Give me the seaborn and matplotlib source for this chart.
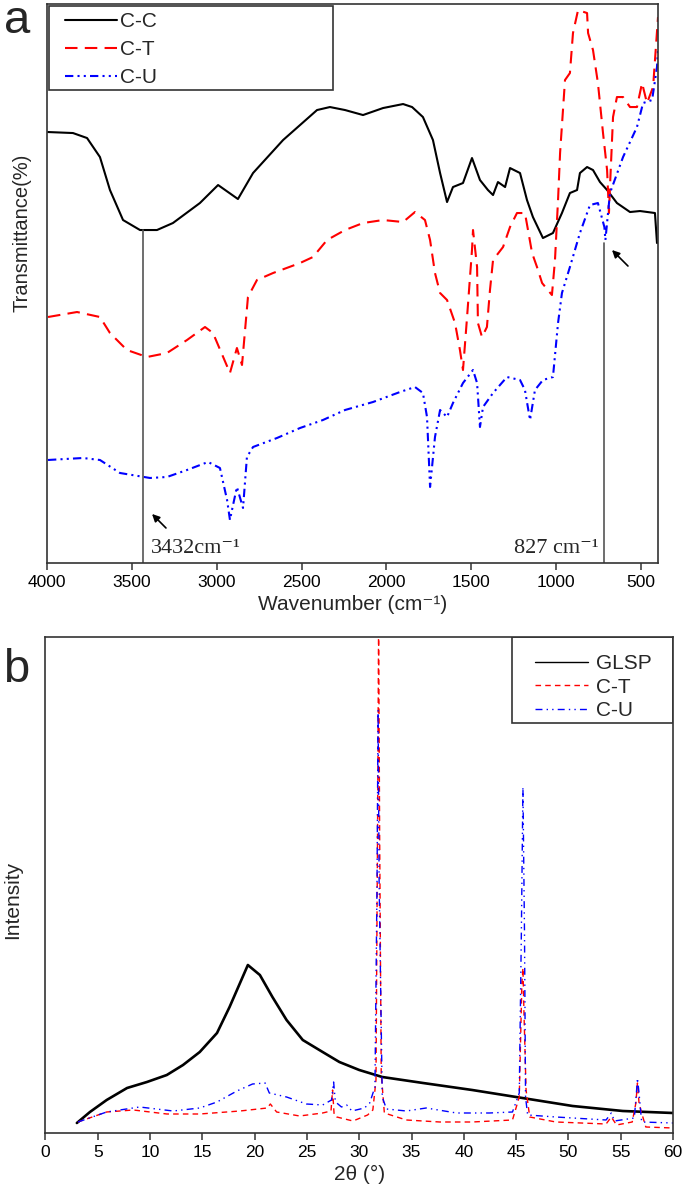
import matplotlib
matplotlib.use("Agg")
import matplotlib.pyplot as plt
from matplotlib.patches import Rectangle
import seaborn as sns

# FTIR spectra (panel a): wavenumber (cm-1) and transmittance (arbitrary offset units)
cc_wn = [3994, 3847, 3764, 3688, 3629, 3552, 3452, 3352, 3258, 3099, 2992, 2875, 2786,
         2609, 2409, 2333, 2244, 2138, 2020, 1902, 1849, 1785, 1726, 1684, 1643, 1608,
         1549, 1496, 1449, 1402, 1372, 1343, 1301, 1272, 1213, 1172, 1137, 1078, 1019,
         966, 919, 877, 860, 818, 783, 742, 700, 642, 565, 506, 418, 406]
cc_t = [431, 430, 425, 406, 373, 343, 333, 333, 340, 360, 378, 364, 390,
        423, 453, 456, 453, 448, 455, 459, 456, 446, 423, 390, 361, 376,
        380, 405, 383, 373, 368, 381, 376, 395, 390, 363, 346, 325, 330,
        350, 370, 373, 390, 396, 393, 381, 373, 360, 351, 352, 350, 320]

ct_wn = [3994, 3823, 3688, 3629, 3529, 3411, 3293, 3175, 3069, 3022, 2922, 2881, 2851,
         2816, 2763, 2668, 2509, 2433, 2350, 2244, 2138, 2020, 1902, 1832, 1773, 1743,
         1714, 1684, 1643, 1596, 1567, 1549, 1525, 1496, 1490, 1466, 1461, 1437, 1408,
         1390, 1372, 1313, 1272, 1231, 1184, 1166, 1142, 1113, 1083, 1025, 1007, 989,
         977, 948, 919, 901, 871, 818, 812, 783, 754, 724, 700, 689, 683, 665, 642,
         606, 565, 524, 494, 465, 429, 400]
ct_t = [246, 251, 246, 230, 213, 206, 210, 223, 236, 230, 190, 215, 198,
        266, 283, 290, 300, 306, 323, 333, 340, 343, 341, 351, 343, 323,
        290, 270, 263, 240, 213, 193, 246, 313, 333, 296, 240, 226, 236,
        273, 303, 316, 336, 350, 350, 333, 310, 296, 280, 268, 303, 363,
        410, 483, 490, 530, 553, 550, 530, 513, 480, 430, 393, 350, 376, 446, 466,
        466, 456, 456, 480, 460, 476, 546]

cu_wn = [3994, 3788, 3688, 3570, 3393, 3293, 3175, 3051, 2981, 2939, 2922, 2910, 2881,
         2845, 2822, 2786, 2645, 2509, 2374, 2244, 2079, 1920, 1832, 1785, 1761, 1743,
         1714, 1684, 1643, 1608, 1549, 1490, 1466, 1449, 1431, 1372, 1290, 1213, 1184,
         1154, 1125, 1078, 1019, 989, 966, 919, 860, 801, 754, 716, 710, 683, 606,
         524, 488, 435, 406, 400]
cu_t = [103, 105, 103, 90, 85, 86, 93, 101, 95, 63, 43, 53, 76,
        55, 106, 116, 125, 135, 143, 153, 161, 171, 176, 170, 146, 76,
        126, 153, 146, 160, 180, 193, 180, 136, 156, 170, 186, 183, 173,
        143, 173, 183, 186, 240, 270, 296, 330, 358, 360, 336, 323, 370, 406,
        436, 460, 463, 496, 513]

# marked bands (position, top of marker line)
mark_wn = [3432, 718]
mark_top = [333, 320]

# XRD patterns (panel b): 2theta (deg) and intensity (arbitrary units)
glsp_2t = [3.0, 4.25, 5.85, 7.8, 9.7, 11.6, 13.15, 14.75, 16.4, 17.6, 18.6, 19.35, 20.5,
           21.7, 23.05, 24.6, 26.5, 28.1, 30.0, 32.2, 36.1, 40.8, 45.0, 50.4, 55.2, 60.0]
glsp_i = [10, 21, 33, 45, 51, 58, 68, 81, 100, 126, 150, 168, 158,
          136, 113, 93, 81, 71, 63, 56, 50, 43, 36, 27, 22, 20]

ct_2t = [3.1, 5.85, 8.4, 11.6, 14.75, 18.6, 21.2, 21.5, 22.1, 24.3, 26.5, 27.3, 27.45,
         27.6, 27.85, 29.4, 30.8, 31.3, 31.6, 31.75, 31.85, 31.95, 32.1, 32.4, 34.5,
         37.7, 40.8, 44.65, 45.3, 45.55, 45.65, 45.75, 45.95, 46.3, 48.8, 53.6, 54.1,
         54.6, 56.1, 56.45, 56.6, 56.75, 57.0, 57.4, 60.0]
ct_i = [11, 21, 23, 19, 19, 22, 25, 29, 21, 17, 20, 22, 43,
        18, 16, 12, 18, 23, 53, 300, 510, 300, 60, 20, 13,
        11, 11, 13, 36, 150, 165, 120, 43, 16, 11, 9, 16,
        8, 11, 30, 50, 30, 20, 6, 5]

cu_2t = [3.1, 5.85, 9.0, 12.2, 14.75, 16.4, 18.3, 19.8, 21.0, 21.4, 23.05, 24.95, 26.5,
         27.35, 27.55, 27.7, 27.85, 28.3, 28.8, 29.3, 30.5, 31.0, 31.5, 31.7, 31.8, 31.9,
         32.2, 32.6, 34.5, 36.4, 39.3, 42.45, 44.65, 45.3, 45.5, 45.65, 45.8, 45.9,
         46.1, 48.8, 53.6, 54.1, 54.4, 56.3, 56.5, 56.6, 56.75, 57.0, 60.0]
cu_i = [11, 21, 26, 22, 25, 31, 42, 49, 50, 40, 36, 29, 28,
        33, 51, 33, 30, 26, 28, 22, 25, 30, 46, 250, 423, 250,
        36, 24, 22, 25, 20, 20, 21, 40, 200, 346, 200, 36,
        18, 16, 13, 20, 12, 15, 40, 55, 40, 11, 10]

sns.set_style("white")
plt.rcParams['font.family'] = ['Liberation Sans', 'DejaVu Sans']
serif = ['Liberation Serif', 'DejaVu Serif']

fig = plt.figure(figsize=(6.85, 11.93), dpi=100)
ax1 = fig.add_axes([0.0686, 0.5281, 0.892, 0.4685])
ax2 = fig.add_axes([0.0664, 0.0503, 0.9161, 0.4157])

# ---- panel a: FTIR
sns.lineplot(x=cc_wn, y=cc_t, ax=ax1, color='black', linewidth=1.5,
             estimator=None, sort=False, label='C-C')
sns.lineplot(x=ct_wn, y=ct_t, ax=ax1, color='#ff0000', linewidth=1.5,
             linestyle=(0, (6, 3.5)), estimator=None, sort=False, label='C-T')
sns.lineplot(x=cu_wn, y=cu_t, ax=ax1, color='#0000ff', linewidth=1.5,
             linestyle=(0, (4, 2, 1, 2, 1, 2)), estimator=None, sort=False, label='C-U')

for wn, top in zip(mark_wn, mark_top):
    ax1.plot([wn, wn], [0, top], color='#555555', linewidth=1.2)

arrow = dict(arrowstyle='-|>', color='black', lw=1.2, mutation_scale=11,
             shrinkA=0, shrinkB=0)
ax1.annotate('', xy=(3381, 49), xytext=(3299, 35), arrowprops=arrow)
ax1.annotate('', xy=(671, 313), xytext=(577, 297), arrowprops=arrow)
ax1.text(3385, 10, '3432cm⁻¹', family=serif, fontsize=16, ha='left', va='baseline')
ax1.text(750, 10, '827 cm⁻¹', family=serif, fontsize=16, ha='right', va='baseline')

ax1.set_xlim(4000, 400)
ax1.set_ylim(0, 559)
ax1.set_xticks([4000, 3500, 3000, 2500, 2000, 1500, 1000, 500])
ax1.set_yticks([])
ax1.set_xlabel('Wavenumber (cm⁻¹)', fontsize=15)
ax1.set_ylabel('Transmittance(%)', fontsize=14.5)
ax1.yaxis.set_label_coords(-0.025, 0.59)

ax1.add_patch(Rectangle((0.0033, 0.846), 0.465, 0.1504, transform=ax1.transAxes,
                        fill=False, edgecolor='#333333', linewidth=1.2, zorder=5))
ax1.legend(loc='upper left', bbox_to_anchor=(0.0295, 0.985), fontsize=15,
           frameon=False, borderaxespad=0, borderpad=0, handlelength=2.5,
           handletextpad=0.15, labelspacing=0.42)

# ---- panel b: XRD
sns.lineplot(x=glsp_2t, y=glsp_i, ax=ax2, color='black', linewidth=1.9,
             estimator=None, sort=False, label='GLSP')
sns.lineplot(x=ct_2t, y=ct_i, ax=ax2, color='#ff0000', linewidth=1.0,
             linestyle=(0, (4, 3)), estimator=None, sort=False, label='C-T')
sns.lineplot(x=cu_2t, y=cu_i, ax=ax2, color='#0000ff', linewidth=1.0,
             linestyle=(0, (5, 3, 1, 3, 1, 3)), estimator=None, sort=False, label='C-U')

ax2.set_xlim(0, 60)
ax2.set_ylim(0, 496)
ax2.set_xticks(range(0, 61, 5))
ax2.set_yticks([])
ax2.set_xlabel('2θ (°)', fontsize=15)
ax2.set_ylabel('Intensity', fontsize=15)
ax2.yaxis.set_label_coords(-0.037, 0.47)

ax2.add_patch(Rectangle((0.7434, 0.827), 0.2566, 0.173, transform=ax2.transAxes,
                        fill=False, edgecolor='#333333', linewidth=1.2, zorder=5))
leg2 = ax2.legend(loc='upper left', bbox_to_anchor=(0.78, 0.966), fontsize=15,
                  frameon=False, borderaxespad=0, borderpad=0, handlelength=2.55,
                  handletextpad=0.38, labelspacing=0.22)
leg2.get_lines()[0].set_linewidth(1.0)

for ax in (ax1, ax2):
    for sp in ax.spines.values():
        sp.set_color('#333333')
        sp.set_linewidth(1.2)
    ax.tick_params(axis='x', direction='out', length=5, width=1.1,
                   labelsize=12.5, bottom=True, colors='#333333', labelcolor='black')

fig.text(0.006, 1 - 33 / 1193, 'a', fontsize=34, va='baseline', ha='left')
fig.text(0.004, 1 - 682 / 1193, 'b', fontsize=34, va='baseline', ha='left')

fig.savefig('out.png', dpi=100)
